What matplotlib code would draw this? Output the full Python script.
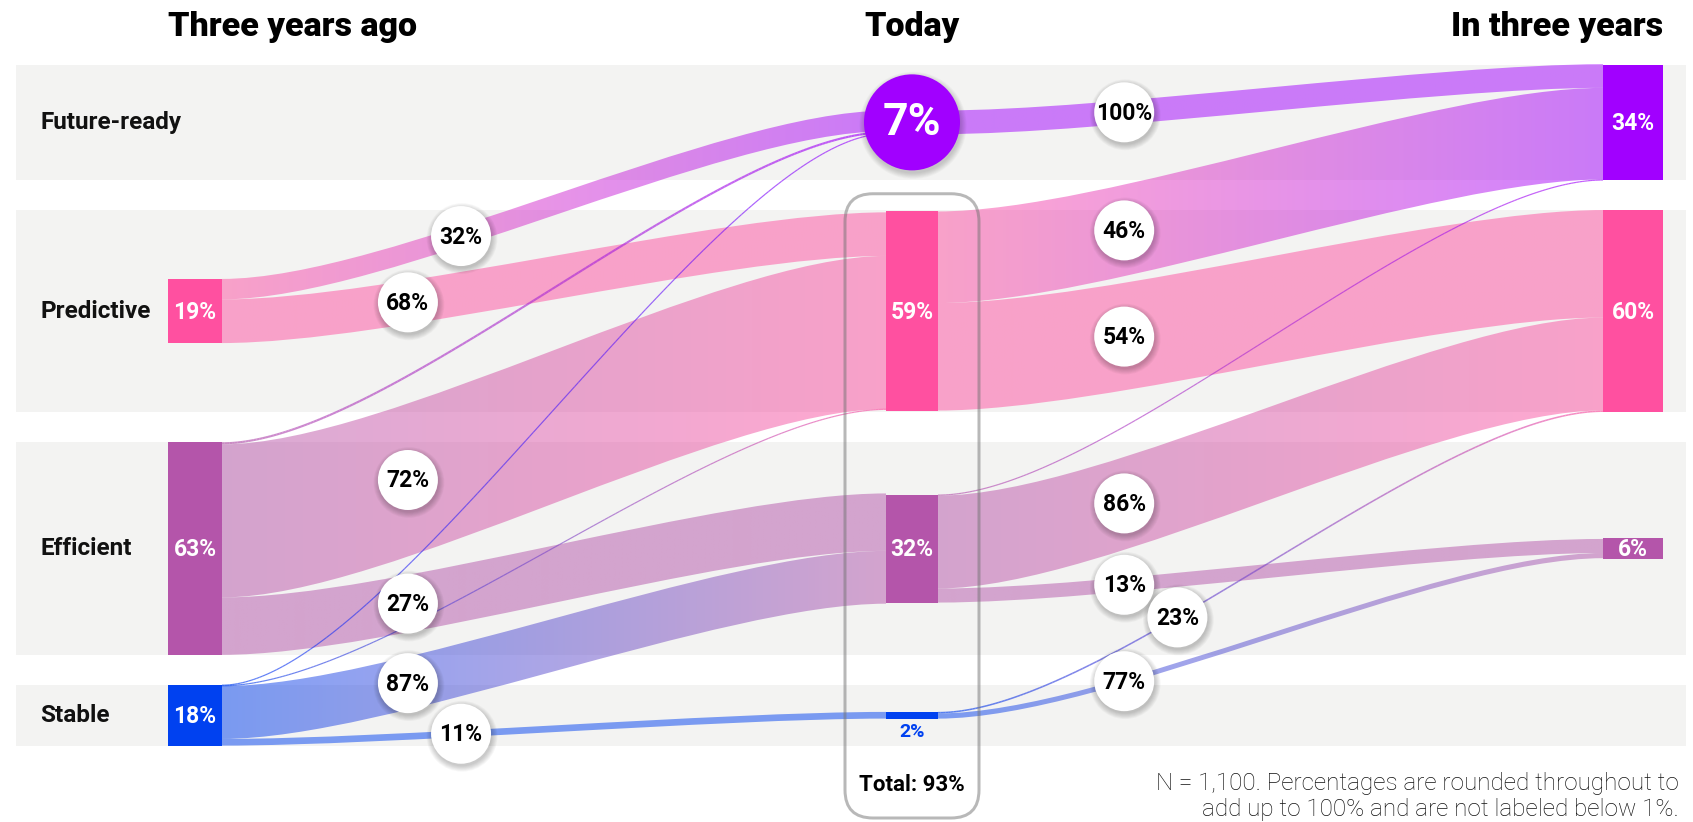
import numpy as np
import matplotlib
matplotlib.use("Agg")
import matplotlib.pyplot as plt
from matplotlib.patches import PathPatch, Circle, FancyBboxPatch, Rectangle
from matplotlib.path import Path
from matplotlib.collections import LineCollection
from matplotlib.colors import to_rgb

# ---------------- data ----------------
stages = ["Three years ago", "Today", "In three years"]
categories = ["Future-ready", "Predictive", "Efficient", "Stable"]
share_three_years_ago = [0, 19, 63, 18]
share_today = [7, 59, 32, 2]
share_in_three_years = [34, 60, 6, 0]
# % of each source category (rows) moving to each target category (columns)
flow_pct_ago_to_today = [
    [0, 0, 0, 0],
    [32, 68, 0, 0],
    [1, 72, 27, 0],
    [1, 1, 87, 11],
]
flow_pct_today_to_future = [
    [100, 0, 0, 0],
    [46, 54, 0, 0],
    [1, 86, 13, 0],
    [0, 23, 77, 0],
]
highlight_stage, highlight_category = "Today", "Future-ready"
total_categories = ["Predictive", "Efficient", "Stable"]
footnote_lines = ["N = 1,100. Percentages are rounded throughout to",
                  "add up to 100% and are not labeled below 1%."]
category_colors = ["#A100FF", "#FF50A0", "#B455AA", "#0041F0"]

# ---------------- layout / style ----------------
plt.rcParams['font.family'] = ['Roboto', 'DejaVu Sans']
W, H = 1693, 822
PX = 3.375          # pixels per percentage point
GAP = 30
TOP = 65
BAND_X0, BAND_X1 = 16, 1686
col_x = [168, 886, 1603]
col_w = [54, 52, 60]
BUBBLE_R = 48
LABEL_R = 30
CURV = 0.25
PT = 0.72
LABEL_FRAC, ALT_FRAC = 0.28, 0.36

shares = [share_three_years_ago, share_today, share_in_three_years]
flow_pcts = [flow_pct_ago_to_today, flow_pct_today_to_future]
nc = len(categories)

fig = plt.figure(figsize=(W / 100, H / 100), dpi=100)
ax = fig.add_axes([0, 0, 1, 1])
ax.set_xlim(0, W)
ax.set_ylim(H, 0)
ax.axis('off')

row_h = [max(s[c] for s in shares) * PX for c in range(nc)]
row_top = []
yy = TOP
for h in row_h:
    row_top.append(yy)
    yy += h + GAP
row_mid = [t + h / 2 for t, h in zip(row_top, row_h)]

# bands + row labels
for c in range(nc):
    ax.add_patch(Rectangle((BAND_X0, row_top[c]), BAND_X1 - BAND_X0, row_h[c],
                           fc='#F3F3F2', ec='none', zorder=0))
    ax.text(40, row_mid[c], categories[c], ha='left', va='center',
            fontsize=17.5, fontweight='semibold', color='#111111', zorder=7)

# stage titles
for s, name in enumerate(stages):
    if s == 0:
        x, ha = col_x[s], 'left'
    elif s == len(stages) - 1:
        x, ha = col_x[s] + col_w[s], 'right'
    else:
        x, ha = col_x[s] + col_w[s] / 2, 'center'
    ax.text(x, 36, name, ha=ha, va='baseline', fontsize=24.5,
            fontweight='black', color='black', zorder=7)


def bezier(p0, p1, p2, p3, n=200):
    t = np.linspace(0, 1, n)[:, None]
    p0, p1, p2, p3 = map(np.asarray, (p0, p1, p2, p3))
    return (1 - t) ** 3 * p0 + 3 * (1 - t) ** 2 * t * p1 + 3 * (1 - t) * t ** 2 * p2 + t ** 3 * p3


def grad_colors(c0, c1, n):
    f = np.linspace(0, 1, n)[:, None]
    return (1 - f) * np.array(to_rgb(c0)) + f * np.array(to_rgb(c1))


label_items = []
for s in range(len(flow_pcts)):
    pct = flow_pcts[s]
    vals = [[shares[s][i] * pct[i][j] / 100 for j in range(nc)] for i in range(nc)]
    src = [[0] * nc for _ in range(nc)]
    tgt = [[0] * nc for _ in range(nc)]
    for i in range(nc):
        y = row_mid[i] - sum(vals[i]) * PX / 2
        for j in range(nc):
            src[i][j] = y
            y += vals[i][j] * PX
    for j in range(nc):
        y = row_mid[j] - sum(vals[i][j] for i in range(nc)) * PX / 2
        for i in range(nc):
            tgt[i][j] = y
            y += vals[i][j] * PX
    xs = col_x[s] + col_w[s]
    xt = col_x[s + 1]
    dx = xt - xs
    cands = []
    for i in range(nc):
        for j in range(nc):
            v = vals[i][j]
            if v <= 0:
                continue
            w = v * PX
            ys, yt = src[i][j], tgt[i][j]
            center = bezier((xs, ys + w / 2), (xs + CURV * dx, ys + w / 2),
                            (xt - CURV * dx, yt + w / 2), (xt, yt + w / 2))
            if w >= 2.5:
                verts = [(xs, ys), (xs + CURV * dx, ys), (xt - CURV * dx, yt), (xt, yt),
                         (xt, yt + w), (xt - CURV * dx, yt + w), (xs + CURV * dx, ys + w), (xs, ys + w),
                         (xs, ys)]
                codes = [Path.MOVETO, Path.CURVE4, Path.CURVE4, Path.CURVE4, Path.LINETO,
                         Path.CURVE4, Path.CURVE4, Path.CURVE4, Path.CLOSEPOLY]
                patch = PathPatch(Path(verts, codes), fc='none', ec='none', zorder=2)
                ax.add_patch(patch)
                n = 256
                g = np.zeros((1, n, 4))
                g[0, :, :3] = grad_colors(category_colors[i], category_colors[j], n)
                g[0, :, 3] = 0.5
                ymin = min(ys, yt) - 1
                ymax = max(ys, yt) + w + 1
                im = ax.imshow(g, extent=(xs, xt, ymax, ymin), aspect='auto',
                               interpolation='bilinear', zorder=2)
                im.set_clip_path(patch)
            else:
                segs = np.stack([center[:-1], center[1:]], axis=1)
                cols = grad_colors(category_colors[i], category_colors[j], len(segs))
                lc = LineCollection(segs, colors=cols, linewidths=max(w, 1.2) * PT,
                                    alpha=0.65, zorder=3, capstyle='butt')
                ax.add_collection(lc)
            if pct[i][j] > 1:
                cands.append((v, pct[i][j], center))
    cands.sort(key=lambda c: -c[0])
    placed = []
    for v, p, center in cands:
        def at(frac):
            x = xs + frac * dx
            return x, float(np.interp(x, center[:, 0], center[:, 1]))
        x, y = at(LABEL_FRAC)
        if any(abs(x - px) < 1 and abs(y - py) < 2 * LABEL_R for px, py in placed):
            x, y = at(ALT_FRAC)
        placed.append((x, y))
        label_items.append((x, y, f"{p}%"))

# nodes
for s, stage in enumerate(stages):
    for c in range(nc):
        v = shares[s][c]
        if v <= 0:
            continue
        cx = col_x[s] + col_w[s] / 2
        if stage == highlight_stage and categories[c] == highlight_category:
            for k in range(8):
                ax.add_patch(Circle((cx + 1, row_mid[c] + 3), BUBBLE_R + k * 0.8,
                                    fc='black', ec='none', alpha=0.025, zorder=4))
            ax.add_patch(Circle((cx, row_mid[c]), BUBBLE_R, fc=category_colors[c], ec='none', zorder=4.5))
            ax.text(cx, row_mid[c] + 1, f"{v}%", ha='center', va='center', fontsize=32,
                    fontweight='bold', color='white', zorder=7)
            continue
        h = v * PX
        ax.add_patch(Rectangle((col_x[s], row_mid[c] - h / 2), col_w[s], h,
                               fc=category_colors[c], ec='none', zorder=4))
        if h >= 18:
            ax.text(cx, row_mid[c] + 1, f"{v}%", ha='center', va='center', fontsize=16.5,
                    fontweight='bold', color='white', zorder=7)
        else:
            ax.text(cx, row_mid[c] + h / 2 + 13, f"{v}%", ha='center', va='center', fontsize=14,
                    fontweight='bold', color=category_colors[c], zorder=7)

# total box around today's nodes
cx_mid = col_x[1] + col_w[1] / 2
first = categories.index(total_categories[0])
box_top = row_top[first] - 16
box = FancyBboxPatch((cx_mid - 67 + 15, box_top + 15), 134 - 30, 818 - box_top - 30,
                     boxstyle="round,pad=15,rounding_size=28", fc='none',
                     ec=(0.45, 0.45, 0.45, 0.5), lw=3 * PT, zorder=5)
ax.add_patch(box)
total = sum(share_today[categories.index(c)] for c in total_categories)
ax.text(cx_mid, 785, f"Total: {total}%", ha='center', va='center', fontsize=16,
        fontweight='bold', color='black', zorder=7)

# flow labels
for x, y, t in label_items:
    for k in range(7):
        ax.add_patch(Circle((x + 1, y + 2.5), LABEL_R + k * 0.9, fc='black', ec='none',
                            alpha=0.03, zorder=6))
    ax.add_patch(Circle((x, y), LABEL_R, fc='white', ec='none', zorder=6.5))
    ax.text(x, y + 1, t, ha='center', va='center', fontsize=16.5, fontweight='bold',
            color='black', zorder=7)

# footnote
for k, line in enumerate(footnote_lines):
    ax.text(1679, 783 + 26 * k, line, ha='right', va='center', fontsize=17.5,
            fontweight='light', color='#111111', zorder=7)

ax.set_xlim(0, W)
ax.set_ylim(H, 0)
fig.savefig("out.png", dpi=100)
